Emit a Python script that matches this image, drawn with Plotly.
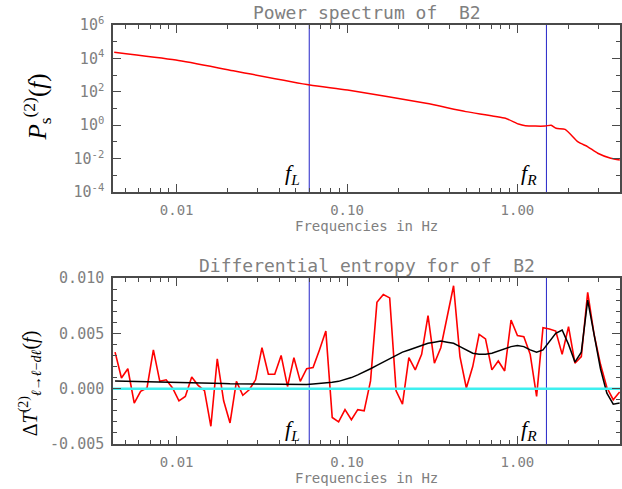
import numpy as np
import plotly.graph_objects as go

# ---------------- data ----------------
F_L = 0.060   # Hz
F_R = 1.48    # Hz

# power spectrum of B2 (top panel)
psd_freq = [0.0043, 0.0099, 0.0215, 0.0604, 0.1007, 0.291, 0.498, 0.851, 1.014,
            1.114, 1.455, 1.578, 1.687, 1.905, 2.27, 2.59, 2.96, 3.53, 3.99]
psd_power = [23400, 7940, 1820, 257, 129, 20.4, 6.5, 2.6, 1.17,
             0.93, 0.89, 1.0, 0.65, 0.56, 0.10, 0.051, 0.021, 0.0105, 0.0083]

# log-spaced frequency grid of the differential entropy (bottom panel)
ent_freq = np.logspace(np.log10(0.00435), np.log10(3.98), 80)

ent_red = [0.0033, 0.00096, 0.0018, -0.0013, -0.00024, 0.00006, 0.0035, 0.00066, 0.0008, 0.00006,
           -0.0011, -0.0007, 0.00105, 0.0003, -0.00018, -0.0034, 0.0027, -0.0011, -0.0031, 0.00066,
           -0.0006, -0.0001, 0.0008, 0.0037, 0.0013, 0.0013, 0.0030, 0.0002, 0.0028, 0.00066,
           0.0018, 0.0019, 0.0035, 0.0052, -0.0026, -0.0030, -0.0019, -0.0028, -0.0019, -0.0020,
           0.0007, 0.0078, 0.0085, 0.0082, -0.0002, -0.0014, 0.0028, 0.0017, 0.0031, 0.0066,
           0.0023, 0.0037, 0.0065, 0.0093, 0.0029, 0.00006, 0.0020, 0.0049, 0.0045, 0.0017,
           0.0025, 0.0016, 0.0062, 0.0048, 0.0047, 0.0031, -0.0007, 0.0055, 0.0054, 0.0052,
           0.0031, 0.0056, 0.0023, 0.0029, 0.0087, 0.0049, 0.0022, 0.0001, -0.0010, -0.0003]

ent_smooth = [0.00070, 0.00069, 0.00068, 0.00068, 0.00067, 0.00066, 0.00065, 0.00063, 0.00062, 0.00060,
              0.00058, 0.00057, 0.00055, 0.00053, 0.00052, 0.00050, 0.00048, 0.00047, 0.00045, 0.00044,
              0.00042, 0.00041, 0.00040, 0.00039, 0.00038, 0.00037, 0.00036, 0.00036, 0.00036, 0.00037,
              0.00038, 0.00042, 0.00046, 0.00052, 0.00058, 0.00066, 0.00080, 0.00100, 0.00125, 0.0015,
              0.0018, 0.0021, 0.0024, 0.0027, 0.0030, 0.0033, 0.0035, 0.0037, 0.0039, 0.0041,
              0.0042, 0.0043, 0.0042, 0.0041, 0.0038, 0.0035, 0.0032, 0.0031, 0.0031, 0.0032,
              0.0034, 0.0036, 0.0038, 0.0039, 0.0038, 0.0035, 0.0033, 0.0035, 0.0042, 0.0050,
              0.0053, 0.0040, 0.0024, 0.0033, 0.0080, 0.0048, 0.0018, -0.0004, -0.0014, -0.0013]

X_RANGE = [0.00423, 4.0]
TOP_YRANGE = [1e-4, 1e6]
BOT_YRANGE = [-0.005, 0.010]

x_tickvals = [0.01, 0.1, 1.0]
x_ticktext = ["0.01", "0.10", "1.00"]
x_minor = [0.005, 0.006, 0.007, 0.008, 0.009, 0.02, 0.03, 0.04, 0.05, 0.06, 0.07, 0.08, 0.09,
           0.2, 0.3, 0.4, 0.5, 0.6, 0.7, 0.8, 0.9, 2, 3, 4]
top_tickvals = [1e-4, 1e-2, 1, 1e2, 1e4, 1e6]
top_ticktext = ["10<sup>-4</sup>", "10<sup>-2</sup>", "10<sup>0</sup>",
                "10<sup>2</sup>", "10<sup>4</sup>", "10<sup>6</sup>"]
top_minor = [1e-3, 1e-1, 1e1, 1e3, 1e5]
bot_tickvals = [-0.005, 0.0, 0.005, 0.010]
bot_ticktext = ["-0.005", "0.000", "0.005", "0.010"]

# ---------------- style ----------------
RED = "#ff0000"
BLUE = "#2424c8"
CYAN = "#3ef0f0"
AXC = "#4a4a4a"
TXT = "#808080"
MONO = "DejaVu Sans Mono"
SERIF = "Liberation Serif"

fig = go.Figure()

# top panel
for f in (F_L, F_R):
    fig.add_trace(go.Scatter(x=[f, f], y=TOP_YRANGE, mode="lines",
                             line=dict(color=BLUE, width=1), xaxis="x", yaxis="y",
                             showlegend=False, hoverinfo="skip"))
fig.add_trace(go.Scatter(x=psd_freq, y=psd_power, mode="lines",
                         line=dict(color=RED, width=1.5, shape="spline", smoothing=0.6),
                         xaxis="x", yaxis="y", showlegend=False))

# bottom panel
for f in (F_L, F_R):
    fig.add_trace(go.Scatter(x=[f, f], y=BOT_YRANGE, mode="lines",
                             line=dict(color=BLUE, width=1), xaxis="x2", yaxis="y2",
                             showlegend=False, hoverinfo="skip"))
fig.add_trace(go.Scatter(x=ent_freq, y=ent_red, mode="lines",
                         line=dict(color=RED, width=1.6), xaxis="x2", yaxis="y2",
                         showlegend=False))
fig.add_trace(go.Scatter(x=ent_freq, y=ent_smooth, mode="lines",
                         line=dict(color="#000000", width=1.5), xaxis="x2", yaxis="y2",
                         showlegend=False))
fig.add_trace(go.Scatter(x=X_RANGE, y=[0, 0], mode="lines",
                         line=dict(color=CYAN, width=2.5), xaxis="x2", yaxis="y2",
                         showlegend=False, hoverinfo="skip"))

xtickfont = dict(family=MONO, size=14, color=TXT)
ytickfont = dict(family=MONO, size=15, color=TXT)
common_x = dict(type="log", range=[np.log10(X_RANGE[0]), np.log10(X_RANGE[1])],
                tickvals=x_tickvals, ticktext=x_ticktext, ticks="inside", ticklen=8,
                tickcolor=AXC, showline=True, linecolor=AXC, linewidth=1.5,
                mirror="allticks", showgrid=False, zeroline=False, tickfont=xtickfont,
                ticklabelstandoff=4,
                minor=dict(tickvals=x_minor, ticks="inside", ticklen=4, tickcolor=AXC,
                           showgrid=False))
common_y = dict(ticks="inside", ticklen=8, tickcolor=AXC, showline=True, linecolor=AXC,
                linewidth=1.5, mirror="allticks", showgrid=False, zeroline=False,
                tickfont=ytickfont, ticklabelstandoff=4)

TOP_DOM = [0.6014, 1.0]
BOT_DOM = [0.0, 0.3962]

fig.update_layout(
    width=622, height=489, autosize=False,
    margin=dict(l=113, r=0, t=25, b=45),
    paper_bgcolor="white", plot_bgcolor="white",
    xaxis=dict(common_x, domain=[0, 1], anchor="y"),
    yaxis=dict(common_y, type="log", range=[-4, 6], domain=TOP_DOM, anchor="x",
               tickvals=top_tickvals, ticktext=top_ticktext,
               minor=dict(tickvals=top_minor, ticks="inside", ticklen=4, tickcolor=AXC,
                          showgrid=False)),
    xaxis2=dict(common_x, domain=[0, 1], anchor="y2"),
    yaxis2=dict(common_y, range=BOT_YRANGE, domain=BOT_DOM, anchor="x2",
                tickvals=bot_tickvals, ticktext=bot_ticktext,
                minor=dict(dtick=0.001, tick0=0, ticks="inside", ticklen=4, tickcolor=AXC,
                           showgrid=False)),
    showlegend=False,
)

titlefont = dict(family=MONO, size=18, color=TXT)
axtitlefont = dict(family=MONO, size=14, color=TXT)
ann = []
ann.append(dict(text="Power spectrum of  B2", x=0.5, y=1.031, xref="paper", yref="paper",
                showarrow=False, font=titlefont, xanchor="center", yanchor="middle"))
ann.append(dict(text="Differential entropy for of  B2", x=0.5, y=0.427, xref="paper",
                yref="paper", showarrow=False, font=titlefont, xanchor="center",
                yanchor="middle"))
ann.append(dict(text="Frequencies in Hz", x=0.5, y=0.520, xref="paper", yref="paper",
                showarrow=False, font=axtitlefont, xanchor="center", yanchor="middle"))
ann.append(dict(text="Frequencies in Hz", x=0.5, y=-0.080, xref="paper", yref="paper",
                showarrow=False, font=axtitlefont, xanchor="center", yanchor="middle"))
ann.append(dict(text="<i>P</i><sub>s</sub><sup>(2)</sup>(<i>f</i>)", x=-0.149, y=0.804,
                xref="paper", yref="paper", showarrow=False, textangle=-90,
                font=dict(family=SERIF, size=25, color="#000000"),
                xanchor="center", yanchor="middle"))
ann.append(dict(text="Δ<i>T</i><sup>(2)</sup><sub><i>ℓ</i>→<i>ℓ</i>−<i>dℓ</i></sub>(<i>f</i>)",
                x=-0.163, y=0.1456, xref="paper", yref="paper", showarrow=False,
                textangle=-90, font=dict(family=SERIF, size=20, color="#000000"),
                xanchor="center", yanchor="middle"))
flabfont = dict(family=SERIF, size=22, color="#000000")
for xr, yr, ypos in (("x", "y domain", 0.108), ("x2", "y2 domain", 0.084)):
    for f, lab in ((F_L, "L"), (F_R, "R")):
        ann.append(dict(text=f"<i>f</i><sub><i>{lab}</i></sub>", x=np.log10(f), y=ypos,
                        xref=xr, yref=yr, showarrow=False, xanchor="right",
                        yanchor="middle", xshift=-7, font=flabfont))
fig.update_layout(annotations=ann)

fig.write_html("out.html",
               config={"displayModeBar": False},
               post_script="document.body.style.margin='0';"
                           "document.body.style.overflow='hidden';")
